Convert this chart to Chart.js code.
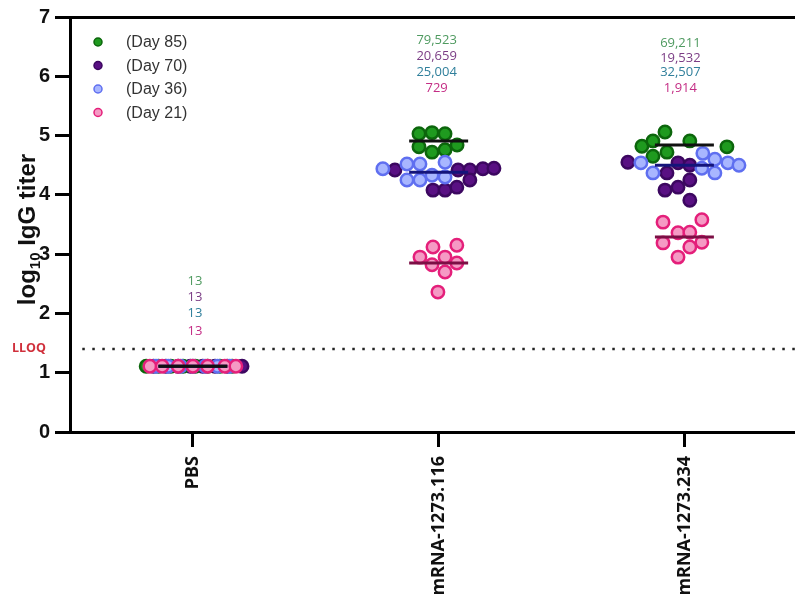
<!DOCTYPE html>
<html>
<head>
<meta charset="utf-8">
<script src="https://cdn.jsdelivr.net/npm/chart.js@4.4.1/dist/chart.umd.min.js"></script>
<style>
  html, body { margin: 0; background: #fff; overflow: hidden; }
  #wrap { width: 795px; height: 595px; position: relative; }
</style>
</head>
<body>
<div id="wrap"><canvas id="titerChart"></canvas></div>
<script>
// groups on the x axis
var groups = ["PBS", "mRNA-1273.116", "mRNA-1273.234"];
var dayLabels = ["(Day 85)", "(Day 70)", "(Day 36)", "(Day 21)"];
var lloq = 1.4;

// per-animal log10 titers (y) and horizontal jitter inside each group (x)
var day85Jitter = [
  [-0.19, -0.14, -0.09, -0.04, 0.01, 0.06, 0.11, 0.16],
  [-0.08, -0.027, 0.026, -0.08, -0.027, 0.026, 0.075],
  [-0.173, -0.128, -0.079, 0.022, -0.128, -0.071, 0.173]
];
var day85Values = [
  [1.11, 1.11, 1.11, 1.11, 1.11, 1.11, 1.11, 1.11],
  [5.03, 5.05, 5.03, 4.81, 4.72, 4.76, 4.84],
  [4.82, 4.91, 5.06, 4.91, 4.65, 4.72, 4.81]
];
var day70Jitter = [
  [-0.16, -0.11, -0.06, -0.01, 0.04, 0.09, 0.14, 0.2],
  [-0.178, 0.079, 0.127, 0.18, 0.225, -0.023, 0.026, 0.074, 0.127],
  [-0.23, -0.071, -0.026, 0.022, 0.022, -0.079, -0.026, 0.022]
];
var day70Values = [
  [1.11, 1.11, 1.11, 1.11, 1.11, 1.11, 1.11, 1.11],
  [4.42, 4.42, 4.42, 4.44, 4.45, 4.08, 4.08, 4.13, 4.25],
  [4.55, 4.37, 4.54, 4.5, 4.25, 4.08, 4.13, 3.91]
];
var day36Jitter = [
  [-0.15, -0.1, -0.05, 0, 0.05, 0.1, 0.15],
  [-0.227, -0.129, -0.076, 0.026, -0.129, -0.076, -0.027, 0.026],
  [-0.177, -0.128, 0.075, 0.124, 0.071, 0.124, 0.177, 0.222]
];
var day36Values = [
  [1.11, 1.11, 1.11, 1.11, 1.11, 1.11, 1.11],
  [4.44, 4.52, 4.52, 4.55, 4.25, 4.25, 4.33, 4.3],
  [4.54, 4.37, 4.7, 4.6, 4.45, 4.37, 4.54, 4.5]
];
var day21Jitter = [
  [-0.175, -0.125, -0.06, 0, 0.06, 0.13, 0.175],
  [-0.076, -0.023, 0.074, 0.026, -0.027, 0.026, 0.074, -0.003],
  [-0.087, 0.071, -0.026, 0.022, -0.087, 0.071, 0.022, -0.026]
];
var day21Values = [
  [1.11, 1.11, 1.11, 1.11, 1.11, 1.11, 1.11],
  [2.95, 3.12, 3.15, 2.95, 2.82, 2.7, 2.85, 2.36],
  [3.54, 3.58, 3.36, 3.37, 3.19, 3.2, 3.12, 2.95]
];

// medians (horizontal bars)
var median85 = [1.11, 4.91, 4.84];
var median36 = [1.11, 4.38, 4.5];
var median21 = [1.11, 2.85, 3.29];

// GMT labels printed above each group
var gmt85 = ["13", "79,523", "69,211"];
var gmt70 = ["13", "20,659", "19,532"];
var gmt36 = ["13", "25,004", "32,507"];
var gmt21 = ["13", "729", "1,914"];

var dayStyles = [
  { fill: "#1f9a1f", border: "#0c660c", text: "#4f9a60", order: 3 },
  { fill: "#591083", border: "#3c0760", text: "#7b3d85", order: 4 },
  { fill: "#a8b6ff", border: "#5f6ff0", text: "#2f7f9b", order: 2 },
  { fill: "#f59ac4", border: "#e41f7a", text: "#c42d85", order: 1 }
];
var allJitter = [day85Jitter, day70Jitter, day36Jitter, day21Jitter];
var allValues = [day85Values, day70Values, day36Values, day21Values];
var allGmt = [gmt85, gmt70, gmt36, gmt21];

function buildPoints(jitter, values) {
  var pts = [];
  for (var g = 0; g < values.length; g++) {
    for (var i = 0; i < values[g].length; i++) {
      pts.push({ x: g + jitter[g][i], y: values[g][i] });
    }
  }
  return pts;
}

var datasets = [];
dayLabels.forEach(function (label, d) {
  datasets.push({
    label: label,
    data: buildPoints(allJitter[d], allValues[d]),
    backgroundColor: dayStyles[d].fill,
    borderColor: dayStyles[d].border,
    borderWidth: 2.5,
    pointRadius: 6.2,
    order: dayStyles[d].order
  });
});

// median bars
function addMedians(medians, color) {
  medians.forEach(function (m, g) {
    var half = g === 0 ? 0.14 : 0.12;
    datasets.push({
      type: "line",
      data: [{ x: g - half, y: m }, { x: g + half, y: m }],
      borderColor: color,
      borderWidth: 3,
      pointRadius: 0,
      order: 0
    });
  });
}
addMedians(median85, "#111111");
addMedians(median36, "#14147a");
addMedians(median21, "#7c0f45");

// LLOQ dotted line
datasets.push({
  type: "line",
  data: [{ x: -0.45, y: lloq }, { x: 2.45, y: lloq }],
  borderColor: "#222",
  borderWidth: 2.5,
  borderDash: [2.5, 7.5],
  pointRadius: 0,
  order: 5
});

var extrasPlugin = {
  id: "extras",
  afterDraw: function (chart) {
    var ctx = chart.ctx;
    var xs = chart.scales.x, ys = chart.scales.y;
    ctx.save();

    // legend, top-left inside the plot
    for (var d = 0; d < dayLabels.length; d++) {
      var ly = 42 + d * 23.5;
      ctx.beginPath();
      ctx.arc(98, ly, 4, 0, Math.PI * 2);
      ctx.fillStyle = dayStyles[d].fill;
      ctx.fill();
      ctx.lineWidth = 1.5;
      ctx.strokeStyle = dayStyles[d].border;
      ctx.stroke();
      ctx.fillStyle = "#333";
      ctx.font = "16px 'Liberation Sans'";
      ctx.textAlign = "left";
      ctx.textBaseline = "middle";
      ctx.fillText(dayLabels[d], 126, ly + 1);
    }

    // GMT numbers above each group
    var rows = [[2.55, 2.28, 2.01, 1.7], [6.6, 6.33, 6.06, 5.8], [6.55, 6.31, 6.07, 5.8]];
    var shift = [2, -2, -4];
    ctx.font = "13px 'Open Sans'";
    ctx.textAlign = "center";
    ctx.textBaseline = "middle";
    for (var g = 0; g < groups.length; g++) {
      for (var k = 0; k < 4; k++) {
        ctx.fillStyle = dayStyles[k].text;
        ctx.fillText(allGmt[k][g], xs.getPixelForValue(g) + shift[g], ys.getPixelForValue(rows[g][k]));
      }
    }

    // LLOQ tag
    ctx.fillStyle = "#d0303c";
    ctx.font = "bold 12.5px 'Open Sans'";
    ctx.textAlign = "left";
    ctx.fillText("LLOQ", 12, ys.getPixelForValue(lloq) - 1);

    // y axis title with subscript
    var cy = (chart.chartArea.top + chart.chartArea.bottom) / 2 + 5;
    ctx.translate(35, cy);
    ctx.rotate(-Math.PI / 2);
    var big = "bold 24px 'Liberation Sans'";
    var small = "bold 15px 'Liberation Sans'";
    ctx.font = big;
    var w1 = ctx.measureText("log").width;
    var w3 = ctx.measureText(" IgG titer").width;
    ctx.font = small;
    var w2 = ctx.measureText("10").width;
    var x0 = -(w1 + w2 + w3) / 2;
    ctx.fillStyle = "#111";
    ctx.textAlign = "left";
    ctx.textBaseline = "alphabetic";
    ctx.font = big;
    ctx.fillText("log", x0, 0);
    ctx.font = small;
    ctx.fillText("10", x0 + w1, 5);
    ctx.font = big;
    ctx.fillText(" IgG titer", x0 + w1 + w2, 0);
    ctx.restore();
  }
};

Chart.defaults.font.family = "'Liberation Sans'";
Chart.defaults.color = "#000";

var ctx = document.getElementById("titerChart").getContext("2d");
var titerChart = new Chart(ctx, {
  type: "scatter",
  data: { datasets: datasets },
  options: {
    responsive: true,
    maintainAspectRatio: false,
    animation: false,
    events: [],
    layout: { autoPadding: false, padding: { top: 17, right: 0, bottom: 0, left: 0 } },
    plugins: {
      legend: { display: false },
      tooltip: { enabled: false }
    },
    scales: {
      x: {
        type: "linear",
        min: -0.5,
        max: 2.45,
        afterBuildTicks: function (scale) {
          scale.ticks = groups.map(function (g, i) { return { value: i }; });
        },
        afterFit: function (scale) {
          scale.height = 163;
          scale.paddingRight = 0;
          scale.paddingLeft = 0;
        },
        border: { color: "#000", width: 3 },
        grid: {
          drawOnChartArea: false,
          tickColor: "#000",
          tickLength: 15,
          tickWidth: 3
        },
        ticks: {
          minRotation: 90,
          maxRotation: 90,
          autoSkip: false,
          padding: 9,
          font: { family: "'Open Sans'", size: 18, weight: "bold" },
          color: "#111",
          callback: function (value) { return groups[value]; }
        }
      },
      y: {
        min: 0,
        max: 7,
        afterFit: function (scale) { scale.width = 70; },
        border: { color: "#000", width: 3 },
        grid: {
          color: function (c) { return c.tick && c.tick.value === 7 ? "#000" : "transparent"; },
          lineWidth: 3,
          tickColor: "#000",
          tickLength: 15,
          tickWidth: 3
        },
        ticks: {
          stepSize: 1,
          padding: 5,
          font: { size: 20, weight: "bold" },
          color: "#111"
        }
      }
    }
  },
  plugins: [extrasPlugin]
});
</script>
</body>
</html>
